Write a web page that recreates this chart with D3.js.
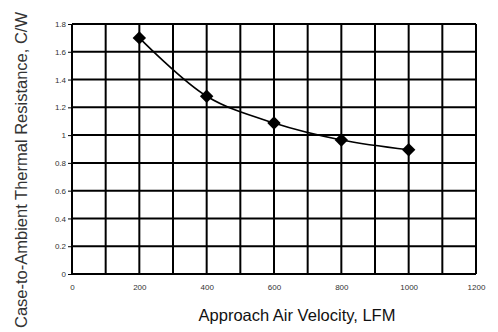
<!DOCTYPE html>
<html>
<head>
<meta charset="utf-8">
<script src="https://cdn.jsdelivr.net/npm/d3@7"></script>
<style>
  body { margin: 0; background: #fff; }
  .axis text { font-family: 'Liberation Sans', Arial, sans-serif; font-size: 8px; fill: #333; }
  .title { font-family: 'Liberation Sans', Arial, sans-serif; }
</style>
</head>
<body>
<div id="chart"></div>
<script>
const velocity = [200, 400, 600, 800, 1000];
const resistance = [1.70, 1.28, 1.087, 0.965, 0.895];
const xTicks = [0, 200, 400, 600, 800, 1000, 1200];
const yTicks = [0, 0.2, 0.4, 0.6, 0.8, 1, 1.2, 1.4, 1.6, 1.8];

const width = 498, height = 332;
const margin = { top: 24, right: 22, bottom: 58, left: 72 };
const w = width - margin.left - margin.right;
const h = height - margin.top - margin.bottom;

const svg = d3.select("#chart").append("svg")
  .attr("width", width)
  .attr("height", height);

const g = svg.append("g")
  .attr("transform", `translate(${margin.left},${margin.top})`);

const x = d3.scaleLinear().domain([0, 1200]).range([0, w]);
const y = d3.scaleLinear().domain([0, 1.8]).range([h, 0]);

// grid
g.append("g").selectAll("line")
  .data(d3.range(0, 1201, 100))
  .join("line")
  .attr("x1", d => x(d)).attr("x2", d => x(d))
  .attr("y1", 0).attr("y2", h)
  .attr("stroke", "#000").attr("stroke-width", 2);

g.append("g").selectAll("line")
  .data(yTicks)
  .join("line")
  .attr("x1", 0).attr("x2", w)
  .attr("y1", d => y(d)).attr("y2", d => y(d))
  .attr("stroke", "#000").attr("stroke-width", 2);

// axes
g.append("g")
  .attr("class", "axis")
  .attr("transform", `translate(0,${h})`)
  .call(d3.axisBottom(x).tickValues(xTicks).tickSize(0).tickPadding(10).tickFormat(d3.format("")))
  .call(s => s.select(".domain").remove());

g.append("g")
  .attr("class", "axis")
  .call(d3.axisLeft(y).tickValues(yTicks).tickSize(4).tickPadding(2).tickFormat(d3.format("")))
  .call(s => s.select(".domain").remove())
  .call(s => s.selectAll(".tick line").attr("stroke", "#000").attr("stroke-width", 1));

const pts = velocity.map((v, i) => ({ v, r: resistance[i] }));

g.append("path")
  .datum(pts)
  .attr("fill", "none")
  .attr("stroke", "#000")
  .attr("stroke-width", 1.6)
  .attr("d", d3.line().x(d => x(d.v)).y(d => y(d.r)).curve(d3.curveCatmullRom.alpha(0.5)));

g.selectAll(".pt")
  .data(pts)
  .join("path")
  .attr("class", "pt")
  .attr("transform", d => `translate(${x(d.v)},${y(d.r)})`)
  .attr("d", d3.symbol(d3.symbolDiamond2, 115))
  .attr("fill", "#000");

svg.append("text")
  .attr("class", "title")
  .attr("x", 297)
  .attr("y", 321)
  .attr("text-anchor", "middle")
  .attr("font-size", 16.5)
  .attr("fill", "#111")
  .text("Approach Air Velocity, LFM");

svg.append("text")
  .attr("class", "title")
  .attr("transform", `translate(27,170) rotate(-90)`)
  .attr("text-anchor", "middle")
  .attr("font-size", 16.5)
  .attr("fill", "#333")
  .text("Case-to-Ambient Thermal Resistance, C/W");
</script>
</body>
</html>
